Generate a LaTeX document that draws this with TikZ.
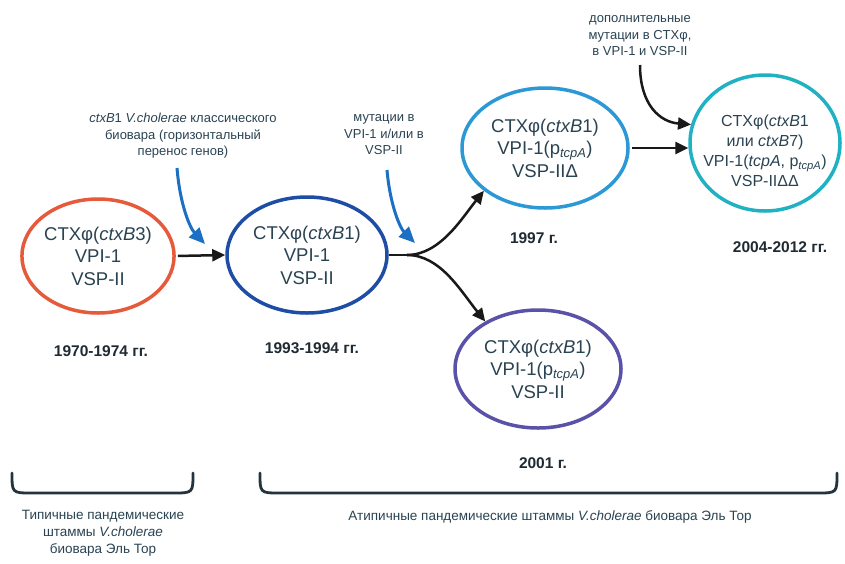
\documentclass[tikz,border=0pt]{standalone}
\usepackage{fontspec}
\setmainfont{Liberation Sans}
\usetikzlibrary{shapes.geometric,arrows.meta}
\definecolor{txt}{HTML}{2A4352}
\definecolor{yrc}{HTML}{1F2A33}
\definecolor{cred}{HTML}{E65A3C}
\definecolor{cblue}{HTML}{1E4DA6}
\definecolor{clblue}{HTML}{2C98D6}
\definecolor{cteal}{HTML}{20B2C2}
\definecolor{cpurp}{HTML}{5A52A8}
\definecolor{carrb}{HTML}{1C70C4}
\definecolor{cbrace}{HTML}{24343F}
\begin{document}
\begin{tikzpicture}[x=1pt,y=-1pt,
  ell/.style={ellipse, draw, line width=3.5pt, inner sep=0pt, align=center,
    text=txt, font=\fontsize{18.5}{22.5}\selectfont},
  ann/.style={align=center, text=txt, font=\fontsize{13}{16.5}\selectfont},
  yr/.style={text=yrc, font=\bfseries\fontsize{15.5}{17}\selectfont},
  arr/.style={-{Triangle[length=13pt,width=12pt]}, line width=2.5pt, color=black!90},
  barr/.style={-{Triangle[length=16pt,width=14pt]}, line width=3pt, color=carrb},
  bracestyle/.style={line width=2.8pt, color=cbrace, line cap=round}]
\useasboundingbox[fill=white] (0,0) rectangle (845,563);

% ellipses
\node[ell, draw=cred, minimum width=150pt, minimum height=114pt] (e1) at (98,256)
  {CTXφ(\textit{ctxB}3)\\VPI-1\\VSP-II};
\node[ell, draw=cblue, minimum width=160pt, minimum height=116pt] (e2) at (307,255)
  {CTXφ(\textit{ctxB}1)\\VPI-1\\VSP-II};
\node[ell, draw=clblue, minimum width=166pt, minimum height=120pt] (e3) at (545,148)
  {CTXφ(\textit{ctxB}1)\\VPI-1(p\textsubscript{\textit{tcpA}})\\VSP-IIΔ};
\node[ell, draw=cteal, minimum width=150pt, minimum height=136pt] (e4) at (765,143) {};
\node[align=center, text=txt, font=\fontsize{16}{20}\selectfont] (e4t) at (765,151)
  {CTXφ(\textit{ctxB}1\\или \textit{ctxB}7)\\VPI-1(\textit{tcpA}, p\textsubscript{\textit{tcpA}})\\VSP-IIΔΔ};
\node[ell, draw=cpurp, minimum width=166pt, minimum height=118pt] (e5) at (538,369)
  {CTXφ(\textit{ctxB}1)\\VPI-1(p\textsubscript{\textit{tcpA}})\\VSP-II};

% years
\node[yr] (y1) at (101,351) {1970-1974 гг.};
\node[yr] (y2) at (312,348) {1993-1994 гг.};
\node[yr] (y3) at (534,238) {1997 г.};
\node[yr] (y4) at (780,247) {2004-2012 гг.};
\node[yr] (y5) at (543,463) {2001 г.};

% annotations
\node[ann] (t1) at (183,136) {\textit{ctxB}1 \textit{V.cholerae} классического\\биовара (горизонтальный\\перенос генов)};
\node[ann] (t2) at (384,135) {мутации в\\VPI-1 и/или в\\VSP-II};
\node[ann] (t3) at (640,36) {дополнительные\\мутации в CTXφ,\\в VPI-1 и VSP-II};

% connectors
\draw[arr, shorten <=2pt] (e1.east) -- (e2.west);
\coordinate (fork) at (407,255);
\draw[line width=2.5pt, color=black!90] (e2.east) -- (fork);
\draw[arr] (fork) .. controls (440,255) and (462,218) .. (e3.215);
\draw[arr] (fork) .. controls (440,255) and (460,290) .. (e5.138);
\draw[arr, shorten <=2pt] (e3.east) -- (e3.east -| e4.west);

\coordinate (b1s) at (177,168);
\coordinate (b1e) at (205,244);
\draw[barr] (b1s) .. controls (180,205) and (190,228) .. (b1e);
\coordinate (b2s) at (387,170);
\coordinate (b2e) at (415,243);
\draw[barr] (b2s) .. controls (390,205) and (400,228) .. (b2e);
\coordinate (k1s) at (640,65);
\draw[arr] (k1s) .. controls (640,105) and (660,122) .. (e4.166);

% braces
\draw[bracestyle] (12,473) .. controls (12,493) .. (32,493) -- (173,493) .. controls (193,493) .. (193,473);
\draw[bracestyle] (260,473) .. controls (260,493) .. (280,493) -- (817,493) .. controls (837,493) .. (837,473);

\node[ann, font=\fontsize{13.5}{17}\selectfont] (g1) at (103,533) {Типичные пандемические\\штаммы \textit{V.cholerae}\\биовара Эль Тор};
\node[ann, font=\fontsize{13.5}{17}\selectfont] (g2) at (550,517) {Атипичные пандемические штаммы \textit{V.cholerae} биовара Эль Тор};
\end{tikzpicture}
\end{document}
